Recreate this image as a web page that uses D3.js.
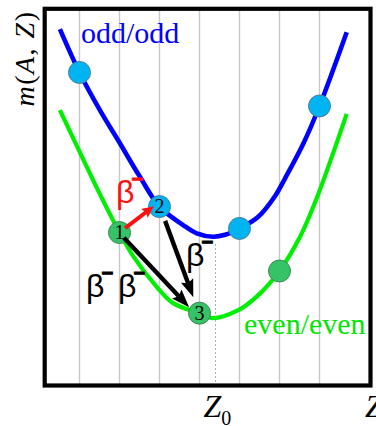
<!DOCTYPE html>
<html>
<head>
<meta charset="utf-8">
<script src="https://cdn.jsdelivr.net/npm/d3@7"></script>
<style>
  html, body { margin: 0; padding: 0; background: #fff; }
  svg { display: block; }
</style>
</head>
<body>
<div id="chart"></div>
<script>
// Isobaric mass parabolas: odd/odd and even/even nuclei versus charge Z.

// Grid positions along Z (one line per integer charge)
const gridZ = [1, 2, 3, 4, 5, 6, 7];
const Z0 = 4.4;

// odd/odd parabola, sampled (Z, mass in arbitrary units)
const oddZ = [0.51, 1.00, 1.51, 2.01, 2.51, 3.00, 3.59, 3.93, 4.34, 4.64, 5.00, 5.47, 5.89, 6.14, 6.60, 7.00, 7.68];
const oddM = [94.6, 83.1, 73.1, 64.3, 55.4, 47.5, 42.6, 40.4, 39.5, 40.0, 41.7, 44.8, 50.3, 55.0, 64.3, 74.2, 93.8];

// even/even parabola
const evenZ = [0.51, 1.01, 1.51, 2.00, 2.35, 2.93, 3.35, 4.00, 4.31, 4.97, 5.47, 6.00, 6.51, 6.93, 7.68];
const evenM = [73.1, 61.9, 50.8, 40.6, 34.2, 26.2, 21.8, 19.2, 17.9, 20.0, 24.0, 30.4, 39.4, 49.7, 72.1];

// Nuclei sitting on the parabolas
const oddNucZ = [1, 3, 5, 7];
const oddNucM = [83.1, 47.5, 41.7, 74.2];
const oddNucTag = ["", "2", "", ""];
const evenNucZ = [2, 4, 6];
const evenNucM = [40.6, 19.2, 30.4];
const evenNucTag = ["1", "3", ""];

// Decay arrows: start (Z, m) -> tip (Z, m)
const arrowFrom = [[2.14, 41.8], [2.11, 39.2], [3.14, 43.7]];
const arrowTo   = [[2.86, 47.6], [3.74, 20.8], [3.845, 23.4]];
const arrowKind = ["red", "black", "black"];

// β⁻ labels: anchor (Z, m) of each label
const betaZ = [1.9125, 3.6625, 1.1625, 1.9625];
const betaM = [48.4, 31.6, 23.6, 23.6];
const betaColor = ["#ff1010", "#000", "#000", "#000"];

const W = 376, H = 426;
const frame = { left: 44.7, right: 370.5, top: 8.8, bottom: 385.5 };

const x = d3.scaleLinear().domain([1, 7]).range([79.5, 319.5]);
const y = d3.scaleLinear().domain([0, 100]).range([385.5, 8.8]);

const svg = d3.select("#chart").append("svg")
  .attr("width", W).attr("height", H)
  .attr("viewBox", `0 0 ${W} ${H}`);

const SERIF = "'Liberation Serif', 'Times New Roman', Times, serif";
const SANS = "'Liberation Sans', Arial, Helvetica, sans-serif";

// vertical grid
svg.append("g").selectAll("line").data(gridZ).join("line")
  .attr("x1", d => x(d)).attr("x2", d => x(d))
  .attr("y1", frame.top).attr("y2", frame.bottom)
  .attr("stroke", "#c8c8c8").attr("stroke-width", 1.4);

// Z0 marker
svg.append("line")
  .attr("x1", x(Z0)).attr("x2", x(Z0))
  .attr("y1", 244).attr("y2", frame.bottom)
  .attr("stroke", "#9a9a9a").attr("stroke-width", 0.8)
  .attr("stroke-dasharray", "2,2");

// curves
const line = d3.line().x(d => x(d[0])).y(d => y(d[1])).curve(d3.curveCatmullRom.alpha(0.5));
svg.append("path")
  .attr("d", line(oddZ.map((z, i) => [z, oddM[i]])))
  .attr("fill", "none").attr("stroke", "#0000ff").attr("stroke-width", 4.6);
svg.append("path")
  .attr("d", line(evenZ.map((z, i) => [z, evenM[i]])))
  .attr("fill", "none").attr("stroke", "#00ee00").attr("stroke-width", 4.2);

// frame
svg.append("rect")
  .attr("x", frame.left).attr("y", frame.top)
  .attr("width", frame.right - frame.left).attr("height", frame.bottom - frame.top)
  .attr("fill", "none").attr("stroke", "#000").attr("stroke-width", 4.2);

// nuclei
const nuclei = oddNucZ.map((z, i) => ({ z, m: oddNucM[i], tag: oddNucTag[i], fill: "#00b4f2", stroke: "#4d7f95" }))
  .concat(evenNucZ.map((z, i) => ({ z, m: evenNucM[i], tag: evenNucTag[i], fill: "#36c266", stroke: "#3f8a58" })));

svg.append("g").selectAll("circle").data(nuclei).join("circle")
  .attr("cx", d => x(d.z)).attr("cy", d => y(d.m)).attr("r", 11)
  .attr("fill", d => d.fill).attr("stroke", d => d.stroke).attr("stroke-width", 1);

// arrows
const arrowStyle = {
  red:   { color: "#ff1010", lw: 4, headL: 12, headW: 11, notch: 2 },
  black: { color: "#000", lw: 4.4, headL: 18, headW: 13, notch: 3 }
};
arrowFrom.forEach((p0, i) => {
  const s = arrowStyle[arrowKind[i]];
  const x0 = x(p0[0]), y0 = y(p0[1]);
  const x1 = x(arrowTo[i][0]), y1 = y(arrowTo[i][1]);
  const len = Math.hypot(x1 - x0, y1 - y0);
  const ux = (x1 - x0) / len, uy = (y1 - y0) / len;
  const bx = x1 - ux * s.headL, by = y1 - uy * s.headL;
  const nx = x1 - ux * (s.headL - s.notch), ny = y1 - uy * (s.headL - s.notch);
  svg.append("line")
    .attr("x1", x0).attr("y1", y0).attr("x2", nx).attr("y2", ny)
    .attr("stroke", s.color).attr("stroke-width", s.lw);
  svg.append("path")
    .attr("d", `M${x1},${y1}L${bx - uy * s.headW / 2},${by + ux * s.headW / 2}L${nx},${ny}L${bx + uy * s.headW / 2},${by - ux * s.headW / 2}Z`)
    .attr("fill", s.color);
});

// tags inside nuclei
svg.append("g").selectAll("text").data(nuclei.filter(d => d.tag)).join("text")
  .attr("x", d => x(d.z)).attr("y", d => y(d.m) + 6.8)
  .attr("text-anchor", "middle")
  .attr("font-family", SERIF).attr("font-size", 20)
  .attr("fill", "#000")
  .text(d => d.tag);

// β⁻ labels
betaZ.forEach((z, i) => {
  const t = svg.append("text")
    .attr("x", x(z)).attr("y", y(betaM[i]))
    .attr("font-family", SANS).attr("font-size", 32)
    .attr("fill", betaColor[i]);
  t.append("tspan").text("β");
  t.append("tspan").attr("dx", -3).attr("dy", -17)
    .attr("font-size", 20).attr("font-weight", "bold")
    .attr("stroke", betaColor[i]).attr("stroke-width", 1.1)
    .text("−");
});

// series names
svg.append("text").attr("x", 81).attr("y", 42.5)
  .attr("font-family", SERIF).attr("font-size", 30).attr("fill", "#0000ff")
  .text("odd/odd");
svg.append("text").attr("x", 244).attr("y", 333.5)
  .attr("font-family", SERIF).attr("font-size", 30).attr("fill", "#00e600")
  .text("even/even");

// axis labels
const z0 = svg.append("text").attr("x", x(Z0) - 12).attr("y", 416.5)
  .attr("font-family", SERIF).attr("font-size", 32).attr("fill", "#000");
z0.append("tspan").attr("font-style", "italic").text("Z");
z0.append("tspan").attr("font-size", 20).attr("dy", 8).text("0");

svg.append("text").attr("x", 365).attr("y", 416.5)
  .attr("font-family", SERIF).attr("font-size", 32).attr("font-style", "italic")
  .attr("fill", "#000").text("Z");

const yl = svg.append("text")
  .attr("transform", "translate(34,58.5) rotate(-90)")
  .attr("text-anchor", "middle")
  .attr("font-family", SERIF).attr("font-size", 28).attr("letter-spacing", 1.5)
  .attr("fill", "#000");
yl.append("tspan").attr("font-style", "italic").text("m");
yl.append("tspan").text("(");
yl.append("tspan").attr("font-style", "italic").text("A");
yl.append("tspan").text(", ");
yl.append("tspan").attr("font-style", "italic").text("Z");
yl.append("tspan").text(")");
</script>
</body>
</html>
